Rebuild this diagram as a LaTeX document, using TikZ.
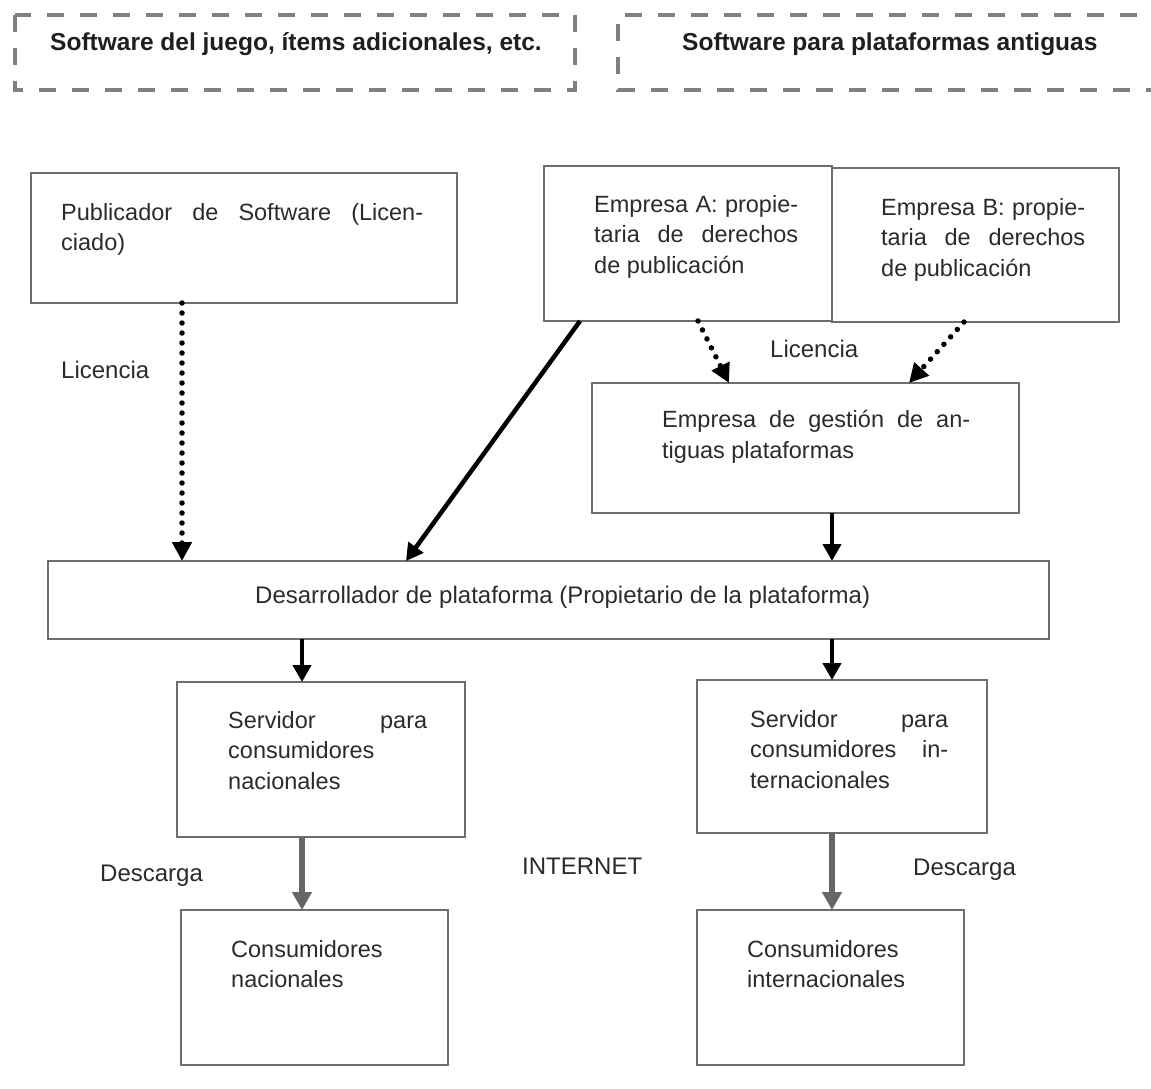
\documentclass[tikz,border=0pt]{standalone}
\usepackage{fontspec}
\setmainfont{Liberation Sans}
\usetikzlibrary{arrows.meta}
\setlength{\parindent}{0pt}
\tolerance=10000
\hbadness=10000
\definecolor{boxgray}{HTML}{6E6E6E}
\definecolor{txtgray}{HTML}{2B2B2B}
\definecolor{dashgray}{HTML}{808080}
\definecolor{arrgray}{HTML}{666666}
\tikzset{
  box/.style={draw=boxgray, line width=2pt, inner sep=0pt, outer sep=0pt, anchor=north west},
  txt/.style={inner sep=0pt, anchor=north west, align=justify, text=txtgray,
    font=\fontsize{23.5}{30.5}\selectfont},
  lbl/.style={inner sep=0pt, anchor=base west, text=txtgray, font=\fontsize{24}{28}\selectfont},
  hdr/.style={inner sep=0pt, anchor=base west, text=black!88, font=\fontsize{24.5}{28}\selectfont\bfseries},
  hdrbox/.style={draw=dashgray, line width=4.5pt, dash pattern=on 17pt off 16pt},
  blk/.style={draw=black, line width=4.5pt, -{Triangle[length=17pt,width=18pt]}},
  gry/.style={draw=arrgray, line width=6pt, -{Triangle[length=18pt,width=19pt]}, color=arrgray},
  dotarr/.style={draw=black, line width=5.5pt, line cap=round, dash pattern=on 0pt off 10pt,
    -{Triangle[length=19pt,width=19pt]}}
}
\begin{document}
\begin{tikzpicture}[x=1pt,y=-1pt]
\fill[white] (0,0) rectangle (1151,1089);
\useasboundingbox (0,0) rectangle (1151,1089);

% header dashed boxes
\draw[hdrbox] (15,15) rectangle (575,90);
\draw[hdrbox] (1170,15) -- (618,15) -- (618,90) -- (1170,90);
\node[hdr] (h1) at (50,51) {Software del juego, ítems adicionales, etc.};
\node[hdr] (h2) at (682,51) {Software para plataformas antiguas};

% boxes
\node[box, minimum width=426pt, minimum height=130pt] (pub) at (31,173) {};
\node[box, minimum width=288pt, minimum height=155pt] (empA) at (544,166) {};
\node[box, minimum width=287pt, minimum height=154pt] (empB) at (832,168) {};
\node[box, minimum width=427pt, minimum height=130pt] (gest) at (592,383) {};
\node[box, minimum width=1001pt, minimum height=78pt] (des) at (48,561) {};
\node[box, minimum width=288pt, minimum height=155pt] (srvN) at (177,682) {};
\node[box, minimum width=290pt, minimum height=153pt] (srvI) at (697,680) {};
\node[box, minimum width=267pt, minimum height=155pt] (conN) at (181,910) {};
\node[box, minimum width=267pt, minimum height=155pt] (conI) at (697,910) {};

% box texts
\node[txt, text width=362pt] (tpub) at (61,203) {Publicador de Software (Licen-\linebreak ciado)};
\node[txt, text width=204pt] (tA) at (594,195) {Empresa A: propie-\linebreak taria de derechos\linebreak de publicación};
\node[txt, text width=204pt] (tB) at (881,198) {Empresa B: propie-\linebreak taria de derechos\linebreak de publicación};
\node[txt, text width=308pt] (tG) at (662,410) {Empresa de gestión de an-\linebreak tiguas plataformas};
\node[lbl] (tD) at (255,603) {Desarrollador de plataforma (Propietario de la plataforma)};
\node[txt, text width=199pt] (tSN) at (228,711) {Servidor para\linebreak consumidores\\nacionales};
\node[txt, text width=198pt] (tSI) at (750,710) {Servidor para\linebreak consumidores in-\linebreak ternacionales};
\node[txt, text width=220pt] (tCN) at (231,940) {Consumidores\\nacionales};
\node[txt, text width=210pt] (tCI) at (747,940) {Consumidores\\internacionales};

% labels
\node[lbl] (l1) at (61,378) {Licencia};
\node[lbl] (l2) at (770,357) {Licencia};
\node[lbl] (d1) at (100,881) {Descarga};
\node[lbl] (inet) at (522,874) {INTERNET};
\node[lbl] (d2) at (913,875) {Descarga};

% connector columns
\coordinate (x182) at (182,0);
\coordinate (x580) at (580,0);
\coordinate (x406) at (406,0);
\coordinate (x698) at (698,0);
\coordinate (x729) at (729,0);
\coordinate (x964) at (964,0);
\coordinate (x909) at (909,0);
\coordinate (x832) at (832,0);
\coordinate (x302) at (302,0);

% connectors
\draw[dotarr] (x182 |- pub.south) -- (x182 |- des.north);
\draw[blk] (x580 |- empA.south) -- (x406 |- des.north);
\draw[dotarr] (x698 |- empA.south) -- (x729 |- gest.north);
\draw[dotarr] (x964 |- empB.south) -- (x909 |- gest.north);
\draw[blk] (x832 |- gest.south) -- (x832 |- des.north);
\draw[blk] (x302 |- des.south) -- (x302 |- srvN.north);
\draw[blk] (x832 |- des.south) -- (x832 |- srvI.north);
\draw[gry] (x302 |- srvN.south) -- (x302 |- conN.north);
\draw[gry] (x832 |- srvI.south) -- (x832 |- conI.north);
\end{tikzpicture}
\end{document}
